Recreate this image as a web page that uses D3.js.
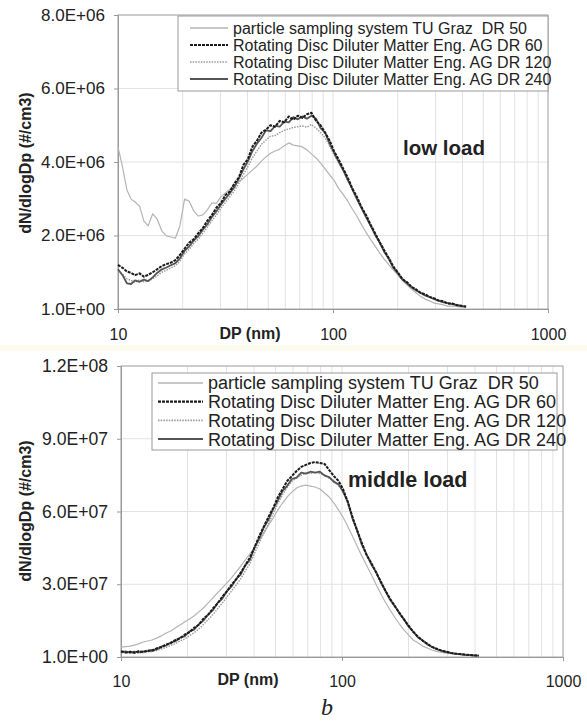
<!DOCTYPE html>
<html>
<head>
<meta charset="utf-8">
<script src="https://cdn.jsdelivr.net/npm/d3@7"></script>
<style>
  body { margin: 0; background: #fff; }
  svg text { font-family: "Liberation Sans", Arial, sans-serif; fill: #222; }
</style>
</head>
<body>
<svg id="chart" width="587" height="721"></svg>
<script>
// particle diameter (nm), shared by all series
const dp = [
  10, 10.5, 11, 11.5, 12, 12.6, 13.2, 13.8, 14.5, 15.2,
  16, 16.8, 17.6, 18.5, 19.4, 20.4, 21.4, 22.5, 23.6, 24.8,
  26, 27.3, 28.7, 30.1, 31.6, 33.2, 34.8, 36.5, 38.3, 40.2,
  42.2, 44.3, 46.5, 48.8, 51.2, 53.8, 56.5, 59.3, 62.3, 65.4,
  68.6, 72, 75.6, 79.4, 83.4, 87.5, 91.9, 96.5, 101, 106,
  112, 117, 123, 129, 136, 143, 150, 157, 165, 173,
  182, 191, 200, 210, 221, 232, 243, 255, 268, 282,
  296, 310, 326, 342, 359, 377, 396, 416
];

const seriesNames = [
  "particle sampling system TU Graz  DR 50",
  "Rotating Disc Diluter Matter Eng. AG DR 60",
  "Rotating Disc Diluter Matter Eng. AG DR 120",
  "Rotating Disc Diluter Matter Eng. AG DR 240"
];

// low load, dN/dlogDp in 1E+06 #/cm3
const lowTUG = [
  4.41, 3.86, 3.24, 2.99, 2.91, 2.80, 2.39, 2.26, 2.59, 2.45,
  2.12, 1.99, 1.96, 1.93, 2.26, 2.99, 2.94, 2.67, 2.53, 2.56,
  2.69, 2.88, 2.88, 3.05, 3.16, 3.27, 3.37, 3.46, 3.56, 3.67,
  3.78, 3.89, 4.03, 4.14, 4.24, 4.30, 4.35, 4.44, 4.52, 4.46,
  4.44, 4.41, 4.33, 4.22, 4.11, 3.97, 3.81, 3.65, 3.51, 3.29,
  3.10, 2.94, 2.72, 2.53, 2.29, 2.07, 1.88, 1.71, 1.52, 1.36,
  1.20, 1.06, 0.93, 0.79, 0.65, 0.54, 0.44, 0.35, 0.27, 0.22,
  0.16, 0.14, 0.11, 0.08, 0.08, 0.07, 0.05, 0.05
];
const lowDR60 = [
  1.20, 1.12, 1.02, 0.98, 0.92, 0.97, 0.88, 0.93, 1.00, 1.08,
  1.17, 1.22, 1.26, 1.33, 1.47, 1.64, 1.80, 1.90, 2.06, 2.20,
  2.40, 2.55, 2.76, 2.88, 3.10, 3.20, 3.42, 3.58, 3.92, 4.08,
  4.42, 4.58, 4.80, 4.88, 5.00, 4.96, 5.12, 5.08, 5.24, 5.15,
  5.26, 5.20, 5.30, 5.34, 5.12, 5.00, 4.80, 4.58, 4.30, 4.08,
  3.80, 3.58, 3.28, 3.06, 2.76, 2.54, 2.28, 2.06, 1.82, 1.60,
  1.38, 1.15, 1.00, 0.82, 0.73, 0.60, 0.54, 0.44, 0.40, 0.33,
  0.29, 0.23, 0.21, 0.15, 0.15, 0.10, 0.09, 0.06
];
const lowDR120 = [
  1.02, 0.95, 0.82, 0.78, 0.72, 0.80, 0.74, 0.76, 0.82, 0.90,
  1.00, 1.06, 1.12, 1.18, 1.30, 1.50, 1.62, 1.78, 1.90, 2.06,
  2.22, 2.40, 2.56, 2.74, 2.90, 3.06, 3.22, 3.42, 3.66, 3.88,
  4.12, 4.30, 4.48, 4.60, 4.70, 4.72, 4.80, 4.86, 4.90, 4.94,
  4.96, 4.98, 4.95, 5.02, 4.92, 4.80, 4.66, 4.44, 4.20, 4.00,
  3.74, 3.50, 3.24, 3.00, 2.72, 2.48, 2.24, 2.02, 1.78, 1.56,
  1.34, 1.12, 0.96, 0.80, 0.70, 0.58, 0.50, 0.43, 0.37, 0.32,
  0.26, 0.22, 0.18, 0.15, 0.13, 0.10, 0.08, 0.06
];
const lowDR240 = [
  1.08, 0.92, 0.70, 0.68, 0.78, 0.74, 0.80, 0.76, 0.86, 0.98,
  1.08, 1.13, 1.19, 1.25, 1.38, 1.58, 1.70, 1.86, 1.98, 2.16,
  2.30, 2.50, 2.66, 2.84, 3.00, 3.16, 3.32, 3.55, 3.80, 4.02,
  4.30, 4.50, 4.66, 4.86, 4.84, 4.98, 4.96, 5.10, 5.08, 5.22,
  5.16, 5.24, 5.18, 5.26, 5.18, 4.92, 4.80, 4.50, 4.26, 4.02,
  3.76, 3.52, 3.26, 3.00, 2.74, 2.48, 2.26, 2.02, 1.80, 1.56,
  1.36, 1.12, 0.98, 0.80, 0.70, 0.59, 0.51, 0.44, 0.37, 0.32,
  0.27, 0.23, 0.18, 0.16, 0.13, 0.11, 0.08, 0.07
];

// middle load, dN/dlogDp in 1E+07 #/cm3
const midTUG = [
  0.41, 0.43, 0.45, 0.49, 0.54, 0.62, 0.66, 0.70, 0.78, 0.87,
  0.99, 1.07, 1.20, 1.32, 1.44, 1.57, 1.69, 1.86, 2.02, 2.23,
  2.43, 2.64, 2.85, 3.05, 3.26, 3.51, 3.75, 4.00, 4.25, 4.49,
  4.82, 5.11, 5.44, 5.73, 6.06, 6.35, 6.60, 6.80, 6.97, 7.05,
  7.09, 7.05, 7.01, 6.93, 6.76, 6.60, 6.35, 6.06, 5.77, 5.40,
  4.95, 4.58, 4.16, 3.79, 3.38, 2.97, 2.60, 2.27, 1.94, 1.65,
  1.36, 1.11, 0.91, 0.70, 0.58, 0.45, 0.37, 0.29, 0.23, 0.19,
  0.16, 0.14, 0.12, 0.10, 0.08, 0.08, 0.06, 0.06
];
const midDR60 = [
  0.24, 0.18, 0.22, 0.17, 0.24, 0.20, 0.27, 0.25, 0.36, 0.40,
  0.52, 0.57, 0.70, 0.77, 0.92, 1.02, 1.20, 1.33, 1.58, 1.74,
  1.99, 2.20, 2.48, 2.70, 2.98, 3.20, 3.48, 3.78, 4.10, 4.52,
  4.98, 5.38, 5.78, 6.14, 6.58, 6.92, 7.26, 7.46, 7.67, 7.84,
  7.92, 8.00, 8.04, 8.00, 7.96, 7.71, 7.46, 7.26, 6.93, 6.42,
  5.72, 5.22, 4.70, 4.22, 3.86, 3.47, 3.10, 2.74, 2.40, 2.11,
  1.82, 1.54, 1.29, 1.04, 0.83, 0.67, 0.55, 0.42, 0.34, 0.26,
  0.22, 0.17, 0.14, 0.12, 0.10, 0.08, 0.07, 0.06
];
const midDR120 = [
  0.17, 0.19, 0.15, 0.18, 0.17, 0.18, 0.21, 0.22, 0.27, 0.33,
  0.40, 0.48, 0.55, 0.66, 0.74, 0.88, 1.00, 1.15, 1.34, 1.54,
  1.74, 1.98, 2.22, 2.46, 2.72, 2.97, 3.22, 3.54, 3.84, 4.28,
  4.70, 5.12, 5.50, 5.90, 6.32, 6.68, 7.00, 7.24, 7.38, 7.50,
  7.58, 7.56, 7.62, 7.56, 7.52, 7.36, 7.28, 7.06, 6.88, 6.36,
  5.72, 5.18, 4.70, 4.20, 3.86, 3.44, 3.10, 2.70, 2.40, 2.08,
  1.82, 1.52, 1.29, 1.02, 0.83, 0.65, 0.55, 0.40, 0.34, 0.25,
  0.22, 0.15, 0.14, 0.11, 0.10, 0.07, 0.07, 0.05
];
const midDR240 = [
  0.20, 0.23, 0.18, 0.22, 0.19, 0.23, 0.24, 0.29, 0.31, 0.43,
  0.47, 0.60, 0.64, 0.80, 0.85, 1.06, 1.13, 1.35, 1.50, 1.76,
  1.92, 2.22, 2.40, 2.71, 2.90, 3.22, 3.40, 3.78, 4.00, 4.52,
  4.88, 5.35, 5.66, 6.10, 6.44, 6.84, 7.06, 7.34, 7.40, 7.60,
  7.56, 7.64, 7.60, 7.64, 7.48, 7.42, 7.22, 7.12, 6.82, 6.42,
  5.66, 5.24, 4.62, 4.24, 3.80, 3.49, 3.06, 2.75, 2.36, 2.12,
  1.79, 1.55, 1.26, 1.05, 0.80, 0.68, 0.52, 0.42, 0.32, 0.26,
  0.20, 0.17, 0.13, 0.12, 0.09, 0.08, 0.06, 0.06
];

const xTickValues = [10, 100, 1000];
const yTicksLow = [1, 2e6, 4e6, 6e6, 8e6];
const yTicksMid = [1, 3e7, 6e7, 9e7, 1.2e8];

// line looks, same order as seriesNames
const styles = [
  { stroke: "#b4b4b4", width: 1.2, dash: null },
  { stroke: "#1a1a1a", width: 2, dash: "3,1" },
  { stroke: "#999", width: 1.4, dash: "1.5,1.2" },
  { stroke: "#555", width: 1.8, dash: null }
];
const drawOrder = [0, 2, 3, 1];

const svg = d3.select("#chart");
svg.append("rect").attr("width", 587).attr("height", 721).attr("fill", "#fff");
// faint scan tint between the panels
svg.append("rect").attr("x", 0).attr("y", 345).attr("width", 587).attr("height", 6)
  .attr("fill", "#fdfbee");

// Excel style 1.0E+06
const expFmt = d => {
  const [m, e] = d.toExponential(1).split("e");
  const n = Math.abs(+e);
  return `${m}E${+e < 0 ? "-" : "+"}${n < 10 ? "0" + n : n}`;
};

function drawPanel(cfg) {
  const x = d3.scaleLog().domain([10, 1000]).range([cfg.left, cfg.right]);
  const y = d3.scaleLinear().domain([0, cfg.yMax]).range([cfg.bottom, cfg.top]);
  const g = svg.append("g");

  // grid
  g.append("g").selectAll("line")
    .data(x.ticks())
    .join("line")
      .attr("x1", d => x(d)).attr("x2", d => x(d))
      .attr("y1", cfg.top).attr("y2", cfg.bottom)
      .attr("stroke", "#e2e2e2").attr("stroke-width", 1);
  g.append("g").selectAll("line")
    .data(cfg.yTicks.slice(1))
    .join("line")
      .attr("x1", cfg.left).attr("x2", cfg.right)
      .attr("y1", d => y(d)).attr("y2", d => y(d))
      .attr("stroke", "#e2e2e2").attr("stroke-width", 1);

  g.append("rect")
    .attr("x", cfg.left).attr("y", cfg.top)
    .attr("width", cfg.right - cfg.left).attr("height", cfg.bottom - cfg.top)
    .attr("fill", "none").attr("stroke", "#a8a8a8");

  // axes
  const gy = g.append("g").attr("transform", `translate(${cfg.left},0)`)
    .call(d3.axisLeft(y).tickValues(cfg.yTicks).tickSize(4).tickPadding(9).tickFormat(expFmt));
  gy.select(".domain").attr("stroke", "#999");
  gy.selectAll(".tick line").attr("stroke", "#999");
  gy.selectAll(".tick text").attr("font-size", cfg.yTickFont).attr("fill", "#2a2a2a")
    .attr("font-family", "Liberation Sans, Arial, sans-serif")
    .attr("textLength", cfg.yTickWidth).attr("lengthAdjust", "spacingAndGlyphs");

  const gx = g.append("g").attr("transform", `translate(0,${cfg.bottom})`)
    .call(d3.axisBottom(x).tickValues(xTickValues).tickSize(4).tickPadding(cfg.xPad).tickFormat(d3.format("d")));
  gx.select(".domain").attr("stroke", "#999");
  gx.selectAll(".tick line").attr("stroke", "#999");
  gx.selectAll(".tick text").attr("font-size", 16).attr("fill", "#2a2a2a")
    .attr("font-family", "Liberation Sans, Arial, sans-serif");

  g.append("text")
    .attr("x", cfg.dpLabel[0]).attr("y", cfg.dpLabel[1])
    .attr("text-anchor", "middle").attr("font-size", 16).attr("font-weight", "bold")
    .text("DP (nm)");

  g.append("text")
    .attr("transform", `translate(31,${cfg.titleY}) rotate(-90)`)
    .attr("text-anchor", "middle").attr("font-size", 16).attr("font-weight", "bold")
    .text("dN/dlogDp (#/cm3)");

  // curves
  const line = d3.line().x(d => x(d[0])).y(d => y(d[1]));
  drawOrder.forEach(i => {
    const pts = dp.map((d, k) => [d, cfg.series[i][k] * cfg.unit]);
    const s = styles[i];
    g.append("path")
      .datum(pts)
      .attr("fill", "none")
      .attr("stroke", s.stroke)
      .attr("stroke-width", s.width)
      .attr("stroke-dasharray", s.dash)
      .attr("stroke-linejoin", "round")
      .attr("d", line);
  });

  // legend
  const L = cfg.legend;
  const lg = g.append("g");
  lg.append("rect")
    .attr("x", L.x).attr("y", L.y).attr("width", L.w).attr("height", L.h)
    .attr("fill", "#fff").attr("stroke", "#9a9a9a");
  seriesNames.forEach((name, i) => {
    const ry = L.row0 + i * L.step;
    const s = styles[i];
    lg.append("line")
      .attr("x1", L.sx0).attr("x2", L.sx1).attr("y1", ry).attr("y2", ry)
      .attr("stroke", s.stroke).attr("stroke-width", s.width + 0.2)
      .attr("stroke-dasharray", s.dash);
    lg.append("text")
      .attr("x", L.tx).attr("y", ry + L.font * 0.36)
      .attr("font-size", L.font)
      .attr("fill", "#2a2a2a")
      .style("white-space", "pre")
      .text(name);
  });

  g.append("text")
    .attr("x", cfg.note.x).attr("y", cfg.note.y)
    .attr("font-size", cfg.note.size).attr("font-weight", "bold")
    .text(cfg.note.text);
}

drawPanel({
  left: 118, right: 548, top: 15, bottom: 309,
  yMax: 8e6, yTicks: yTicksLow, unit: 1e6, yTickFont: 17, yTickWidth: 64, xPad: 16,
  series: [lowTUG, lowDR60, lowDR120, lowDR240],
  dpLabel: [250, 339], titleY: 163,
  legend: { x: 178, y: 16, w: 370, h: 75, row0: 28, step: 17, sx0: 190, sx1: 228, tx: 233, font: 16 },
  note: { text: "low load", x: 403, y: 155, size: 20.5 }
});

drawPanel({
  left: 121, right: 563, top: 366, bottom: 657,
  yMax: 1.2e8, yTicks: yTicksMid, unit: 1e7, yTickFont: 17.5, yTickWidth: 66, xPad: 15,
  series: [midTUG, midDR60, midDR120, midDR240],
  dpLabel: [248, 685], titleY: 511,
  legend: { x: 152, y: 373, w: 405, h: 77, row0: 383, step: 18.7, sx0: 158, sx1: 203, tx: 208, font: 18 },
  note: { text: "middle load", x: 348, y: 487, size: 21.5 }
});

svg.append("text")
  .attr("x", 327).attr("y", 715)
  .attr("text-anchor", "middle")
  .attr("font-size", 24).attr("font-style", "italic")
  .style("font-family", "'Liberation Serif', 'Times New Roman', serif")
  .text("b");
</script>
</body>
</html>
